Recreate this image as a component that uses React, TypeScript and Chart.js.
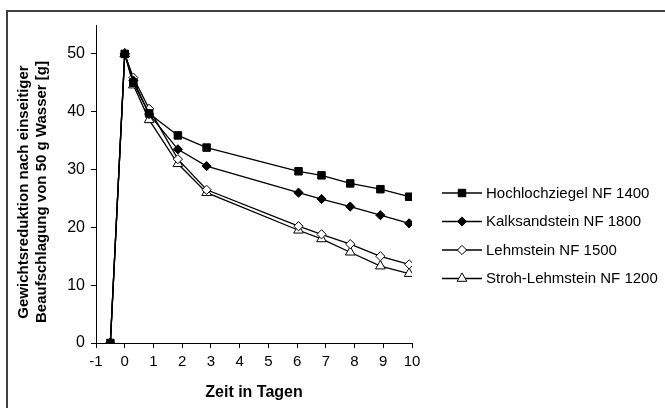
import React, { useEffect, useRef } from "react";
import { Chart, registerables } from "chart.js";

Chart.register(...registerables);

const days = [-0.5, 0, 0.3, 0.85, 1.85, 2.85, 6.05, 6.85, 7.85, 8.9, 9.9];
const hochlochziegel = [0, 50, 45.0, 39.7, 35.9, 33.8, 29.7, 29.0, 27.6, 26.6, 25.3];
const kalksandstein = [0, 50, 45.4, 39.6, 33.5, 30.6, 26.0, 24.9, 23.6, 22.1, 20.7];
const lehmstein = [0, 50, 45.9, 40.5, 31.8, 26.5, 20.2, 18.8, 17.1, 15.0, 13.6];
const strohLehmstein = [0, 50, 44.6, 38.6, 31.0, 26.0, 19.5, 18.0, 15.7, 13.3, 12.0];

const seriesNames = [
  "Hochlochziegel NF 1400",
  "Kalksandstein NF 1800",
  "Lehmstein NF 1500",
  "Stroh-Lehmstein NF 1200",
];
const yTicks = [0, 10, 20, 30, 40, 50];
const yTitle = ["Gewichtsreduktion nach einseitiger", "Beaufschlagung von 50 g Wasser [g]"];
const xTitle = "Zeit in Tagen";

const FONT = "Arial, 'Liberation Sans', sans-serif";

export default function App() {
  const ref = useRef<HTMLCanvasElement | null>(null);

  useEffect(() => {
    document.body.style.margin = "0";
    const canvas = ref.current;
    if (!canvas) return;

    const mk = (label: string, values: number[], style: string, fill: string, radius: number) => ({
      label,
      data: days.map((d, i) => ({ x: d, y: values[i] })),
      borderColor: "#000",
      borderWidth: 1.3,
      pointStyle: style,
      pointRadius: radius,
      pointHoverRadius: radius,
      pointBackgroundColor: fill,
      pointBorderColor: "#000",
      pointBorderWidth: 1,
      tension: 0,
      fill: false,
    });

    const datasets = [
      mk(seriesNames[0], hochlochziegel, "rect", "#000", 5.3),
      mk(seriesNames[1], kalksandstein, "rectRot", "#000", 4.6),
      mk(seriesNames[2], lehmstein, "rectRot", "#fff", 4.6),
      mk(seriesNames[3], strohLehmstein, "triangle", "#fff", 5.6),
    ];

    function drawMarker(ctx: CanvasRenderingContext2D, style: string, r: number, x: number, y: number, fill: string) {
      ctx.beginPath();
      if (style === "rect") {
        const s = Math.SQRT1_2 * r;
        ctx.rect(x - s, y - s, 2 * s, 2 * s);
      } else if (style === "rectRot") {
        ctx.moveTo(x, y - r);
        ctx.lineTo(x + r, y);
        ctx.lineTo(x, y + r);
        ctx.lineTo(x - r, y);
        ctx.closePath();
      } else {
        for (let k = 0; k < 3; k++) {
          const ang = -Math.PI / 2 + (k * 2 * Math.PI) / 3;
          const px = x + Math.cos(ang) * r;
          const py = y + Math.sin(ang) * r;
          if (k === 0) ctx.moveTo(px, py);
          else ctx.lineTo(px, py);
        }
        ctx.closePath();
      }
      ctx.fillStyle = fill;
      ctx.fill();
      ctx.strokeStyle = "#000";
      ctx.lineWidth = 1;
      ctx.stroke();
    }

    const decor = {
      id: "decor",
      afterDraw(chart: any) {
        const ctx = chart.ctx as CanvasRenderingContext2D;
        ctx.save();
        // outer frame
        ctx.strokeStyle = "#404040";
        ctx.lineWidth = 2;
        ctx.strokeRect(7, 11, 700, 450);
        // y title
        ctx.fillStyle = "#000";
        ctx.font = `bold 15px ${FONT}`;
        ctx.textAlign = "center";
        ctx.textBaseline = "middle";
        const cy = 192;
        [24, 42].forEach((x, i) => {
          ctx.save();
          ctx.translate(x, cy);
          ctx.rotate(-Math.PI / 2);
          ctx.fillText(yTitle[i], 0, 0);
          ctx.restore();
        });
        // x title
        ctx.font = `bold 16px ${FONT}`;
        ctx.fillText(xTitle, 254, 393);
        // legend
        ctx.font = `15px ${FONT}`;
        ctx.textAlign = "left";
        const ys = [193, 221.5, 250, 278.5];
        chart.data.datasets.forEach((ds: any, i: number) => {
          const y = ys[i];
          ctx.strokeStyle = "#000";
          ctx.lineWidth = 1.3;
          ctx.beginPath();
          ctx.moveTo(442, y);
          ctx.lineTo(482, y);
          ctx.stroke();
          drawMarker(ctx, ds.pointStyle, ds.pointRadius, 462, y, ds.pointBackgroundColor);
          ctx.fillStyle = "#000";
          ctx.fillText(ds.label, 486, y + 0.5);
        });
        ctx.restore();
      },
    };

    const chart = new Chart(canvas, {
      type: "line",
      data: { datasets: datasets as any },
      plugins: [decor],
      options: {
        responsive: false,
        animation: false,
        events: [],
        layout: { padding: { top: 25, right: 253, left: 0, bottom: 0 } },
        plugins: { legend: { display: false }, tooltip: { enabled: false } },
        scales: {
          x: {
            type: "linear",
            min: -1,
            max: 10,
            afterFit: (s: any) => {
              s.height = 65;
            },
            ticks: {
              stepSize: 1,
              color: "#000",
              font: { family: FONT, size: 15 },
              padding: 5,
              maxRotation: 0,
            },
            grid: {
              drawOnChartArea: false,
              drawTicks: true,
              tickLength: 5,
              tickColor: "#000",
            },
            border: { display: true, color: "#000", width: 1 },
          },
          y: {
            type: "linear",
            min: 0,
            max: 55,
            afterFit: (s: any) => {
              s.width = 96;
            },
            afterBuildTicks: (s: any) => {
              s.ticks = yTicks.map((v) => ({ value: v }));
            },
            ticks: {
              color: "#000",
              font: { family: FONT, size: 16 },
              padding: 6,
            },
            grid: {
              drawOnChartArea: false,
              drawTicks: true,
              tickLength: 5,
              tickColor: "#000",
            },
            border: { display: true, color: "#000", width: 1 },
          },
        },
      },
    });
    return () => chart.destroy();
  }, []);

  return (
    <div style={{ width: 665, height: 408, background: "#fff" }}>
      <canvas ref={ref} width={665} height={408} style={{ display: "block" }} />
    </div>
  );
}
